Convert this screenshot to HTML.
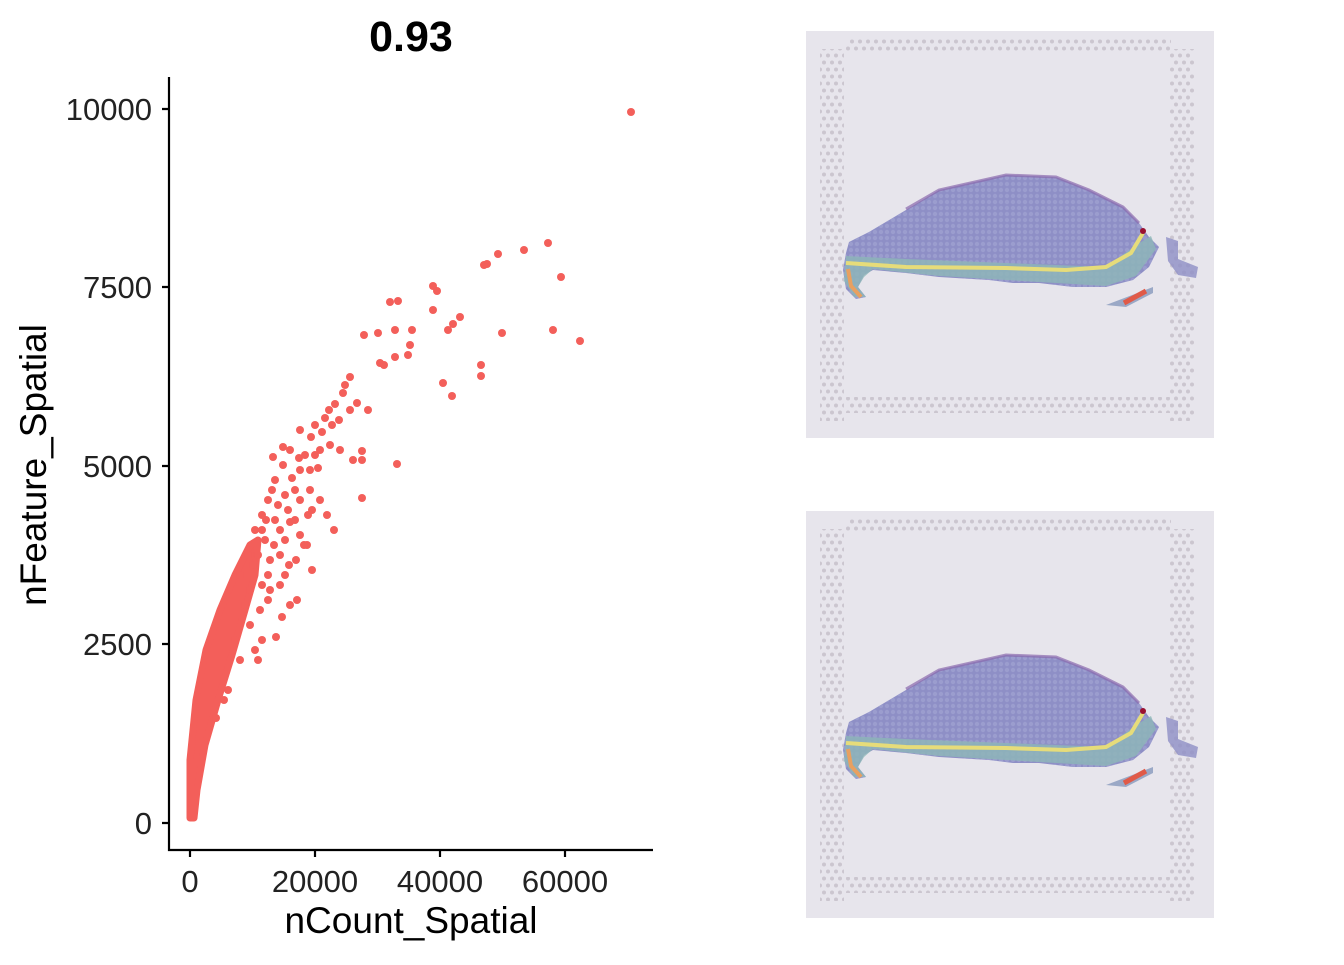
<!DOCTYPE html>
<html><head><meta charset="utf-8"><style>
body{margin:0;background:#fff;width:1344px;height:960px;overflow:hidden;font-family:"Liberation Sans",sans-serif}
</style></head><body>
<svg width="1344" height="960" xmlns="http://www.w3.org/2000/svg" font-family="Liberation Sans, sans-serif">
<defs>
<pattern id="dp" x="0" y="0" width="8" height="14" patternUnits="userSpaceOnUse">
<circle cx="2" cy="3.5" r="2" fill="#cbc6cf"/><circle cx="6" cy="10.5" r="2" fill="#cbc6cf"/>
</pattern>
<pattern id="tp" x="0" y="0" width="6" height="6" patternUnits="userSpaceOnUse">
<circle cx="3" cy="3" r="2.2" fill="#a3a6d4" opacity="0.6"/>
</pattern>
<g id="img">
<rect x="0" y="0" width="408" height="407" fill="#e7e5ec"/>
<rect x="14" y="18" width="24" height="372" fill="url(#dp)"/>
<rect x="364" y="18" width="24" height="372" fill="url(#dp)"/>
<rect x="40" y="8" width="325" height="14" fill="url(#dp)"/>
<rect x="40" y="366" width="325" height="16" fill="url(#dp)"/>
<path d="M43,211 L63,201 L100,179 L133,159 L200,144 L250,146 L283,159 L317,176 L333,192 L343,206 L353,216 L343,236 L327,249 L300,256 L267,256 L233,252 L207,252 L183,249 L133,246 L100,242 L67,239 L58,244 L52,256 L60,266 L50,268 L40,258 L37,239 L40,222 Z" fill="#8e8fc6"/>
<path d="M43,211 L63,201 L100,179 L133,159 L200,144 L250,146 L283,159 L317,176 L333,192 L343,206 L353,216 L343,236 L327,249 L300,256 L267,256 L233,252 L207,252 L183,249 L133,246 L100,242 L67,239 L58,244 L52,256 L60,266 L50,268 L40,258 L37,239 L40,222 Z" fill="url(#tp)"/>
<path d="M100,178 L133,159 L200,144 L250,146 L283,159 L317,176 L333,192" stroke="#8a6aae" stroke-width="3" fill="none" opacity="0.7"/>
<path d="M40,225 L100,228 L200,232 L300,236 L330,214 L345,205 L350,218 L330,245 L300,255 L233,251 L133,245 L67,238 L58,246 L52,256 L60,266 L48,266 L38,250 Z" fill="#8db6b8" opacity="0.8"/>
<path d="M300,274 L347,256 L347,262 L320,276 Z" fill="#9aa8c6"/>
<path d="M360,206 L372,210 L372,228 L392,236 L390,247 L372,244 L362,230 Z" fill="#8e8fc6" opacity="0.8"/>
<path d="M40,232 L100,236 L200,237 L260,239 L300,236 L325,222 L337,202" stroke="#e6dc7a" stroke-width="4" fill="none"/>
<path d="M42,238 L45,255 L55,266" stroke="#e8a060" stroke-width="4" fill="none"/>
<path d="M318,272 L340,260" stroke="#e05a48" stroke-width="5" fill="none"/>
<circle cx="337" cy="200" r="3" fill="#9b1030"/>
</g>
</defs>
<text x="411" y="51" font-size="43" font-weight="bold" text-anchor="middle">0.93</text>
<g stroke="#000" stroke-width="2.2" fill="none">
<path d="M169,77 V850 H653"/>
<path d="M162,109 H169 M162,287 H169 M162,466 H169 M162,644 H169 M162,823 H169"/>
<path d="M190,850 V857 M315,850 V857 M440,850 V857 M565,850 V857"/>
</g>
<g font-size="31" fill="#222" text-anchor="end">
<text x="152" y="120">10000</text><text x="152" y="298">7500</text><text x="152" y="477">5000</text><text x="152" y="655">2500</text><text x="152" y="834">0</text>
</g>
<g font-size="31" fill="#222" text-anchor="middle">
<text x="190" y="892">0</text><text x="315" y="892">20000</text><text x="440" y="892">40000</text><text x="565" y="892">60000</text>
</g>
<text x="411" y="933" font-size="37" text-anchor="middle">nCount_Spatial</text>
<text transform="translate(46,465) rotate(-90)" font-size="37" text-anchor="middle">nFeature_Spatial</text>
<path d="M190,818 L190,760 L196,700 L206,650 L220,610 L235,575 L250,545 L258,540 L255,575 L245,610 L232,655 L218,700 L205,745 L197,790 L194,818 Z" fill="#f35f5a" stroke="#f35f5a" stroke-width="7" stroke-linejoin="round"/>
<g fill="#f35f5a">
<circle cx="631" cy="112" r="4"/><circle cx="548" cy="243" r="4"/><circle cx="524" cy="250" r="4"/><circle cx="498" cy="254" r="4"/><circle cx="487" cy="264" r="4"/><circle cx="484" cy="265" r="4"/><circle cx="561" cy="277" r="4"/><circle cx="433" cy="286" r="4"/><circle cx="437" cy="291" r="4"/><circle cx="398" cy="301" r="4"/><circle cx="390" cy="302" r="4"/><circle cx="433" cy="310" r="4"/><circle cx="460" cy="317" r="4"/><circle cx="453" cy="324" r="4"/><circle cx="448" cy="330" r="4"/><circle cx="412" cy="330" r="4"/><circle cx="395" cy="330" r="4"/><circle cx="378" cy="333" r="4"/><circle cx="364" cy="335" r="4"/><circle cx="502" cy="333" r="4"/><circle cx="553" cy="330" r="4"/><circle cx="580" cy="341" r="4"/><circle cx="410" cy="345" r="4"/><circle cx="408" cy="355" r="4"/><circle cx="395" cy="357" r="4"/><circle cx="380" cy="363" r="4"/><circle cx="384" cy="365" r="4"/><circle cx="481" cy="365" r="4"/><circle cx="443" cy="383" r="4"/><circle cx="452" cy="396" r="4"/><circle cx="481" cy="376" r="4"/><circle cx="397" cy="464" r="4"/><circle cx="362" cy="460" r="4"/><circle cx="362" cy="451" r="4"/><circle cx="362" cy="498" r="4"/><circle cx="350" cy="377" r="4"/><circle cx="345" cy="385" r="4"/><circle cx="343" cy="393" r="4"/><circle cx="335" cy="404" r="4"/><circle cx="329" cy="410" r="4"/><circle cx="325" cy="418" r="4"/><circle cx="332" cy="425" r="4"/><circle cx="339" cy="420" r="4"/><circle cx="350" cy="410" r="4"/><circle cx="357" cy="403" r="4"/><circle cx="368" cy="410" r="4"/><circle cx="322" cy="432" r="4"/><circle cx="311" cy="437" r="4"/><circle cx="320" cy="450" r="4"/><circle cx="330" cy="445" r="4"/><circle cx="340" cy="450" r="4"/><circle cx="353" cy="460" r="4"/><circle cx="318" cy="468" r="4"/><circle cx="299" cy="458" r="4"/><circle cx="292" cy="478" r="4"/><circle cx="310" cy="490" r="4"/><circle cx="320" cy="500" r="4"/><circle cx="308" cy="515" r="4"/><circle cx="327" cy="515" r="4"/><circle cx="334" cy="530" r="4"/><circle cx="290" cy="522" r="4"/><circle cx="300" cy="535" r="4"/><circle cx="307" cy="545" r="4"/><circle cx="296" cy="560" r="4"/><circle cx="285" cy="575" r="4"/><circle cx="280" cy="555" r="4"/><circle cx="290" cy="605" r="4"/><circle cx="297" cy="600" r="4"/><circle cx="282" cy="617" r="4"/><circle cx="276" cy="637" r="4"/><circle cx="262" cy="640" r="4"/><circle cx="258" cy="660" r="4"/><circle cx="270" cy="590" r="4"/><circle cx="260" cy="610" r="4"/><circle cx="250" cy="625" r="4"/><circle cx="240" cy="660" r="4"/><circle cx="245" cy="605" r="4"/><circle cx="235" cy="640" r="4"/><circle cx="228" cy="690" r="4"/><circle cx="216" cy="718" r="4"/><circle cx="253" cy="565" r="4"/><circle cx="240" cy="575" r="4"/><circle cx="266" cy="520" r="4"/><circle cx="278" cy="505" r="4"/><circle cx="285" cy="495" r="4"/><circle cx="275" cy="480" r="4"/><circle cx="262" cy="585" r="4"/><circle cx="312" cy="570" r="4"/><circle cx="304" cy="545" r="4"/><circle cx="255" cy="650" r="4"/><circle cx="224" cy="700" r="4"/><circle cx="273" cy="457" r="4"/><circle cx="283" cy="447" r="4"/><circle cx="315" cy="425" r="4"/>
<circle cx="255" cy="530" r="4"/><circle cx="262" cy="515" r="4"/><circle cx="268" cy="500" r="4"/><circle cx="272" cy="490" r="4"/><circle cx="265" cy="540" r="4"/><circle cx="270" cy="560" r="4"/><circle cx="280" cy="530" r="4"/><circle cx="288" cy="510" r="4"/><circle cx="295" cy="490" r="4"/><circle cx="300" cy="470" r="4"/><circle cx="305" cy="455" r="4"/><circle cx="283" cy="465" r="4"/><circle cx="290" cy="450" r="4"/><circle cx="300" cy="430" r="4"/><circle cx="275" cy="520" r="4"/><circle cx="258" cy="555" r="4"/><circle cx="285" cy="540" r="4"/><circle cx="295" cy="520" r="4"/><circle cx="310" cy="470" r="4"/><circle cx="315" cy="455" r="4"/><circle cx="300" cy="500" r="4"/><circle cx="312" cy="510" r="4"/><circle cx="280" cy="585" r="4"/><circle cx="268" cy="600" r="4"/><circle cx="250" cy="590" r="4"/><circle cx="274" cy="545" r="4"/><circle cx="289" cy="565" r="4"/><circle cx="262" cy="530" r="4"/><circle cx="248" cy="555" r="4"/><circle cx="268" cy="575" r="4"/>
</g>
<use href="#img" x="806" y="31"/>
<use href="#img" x="806" y="511"/>
</svg>
</body></html>
